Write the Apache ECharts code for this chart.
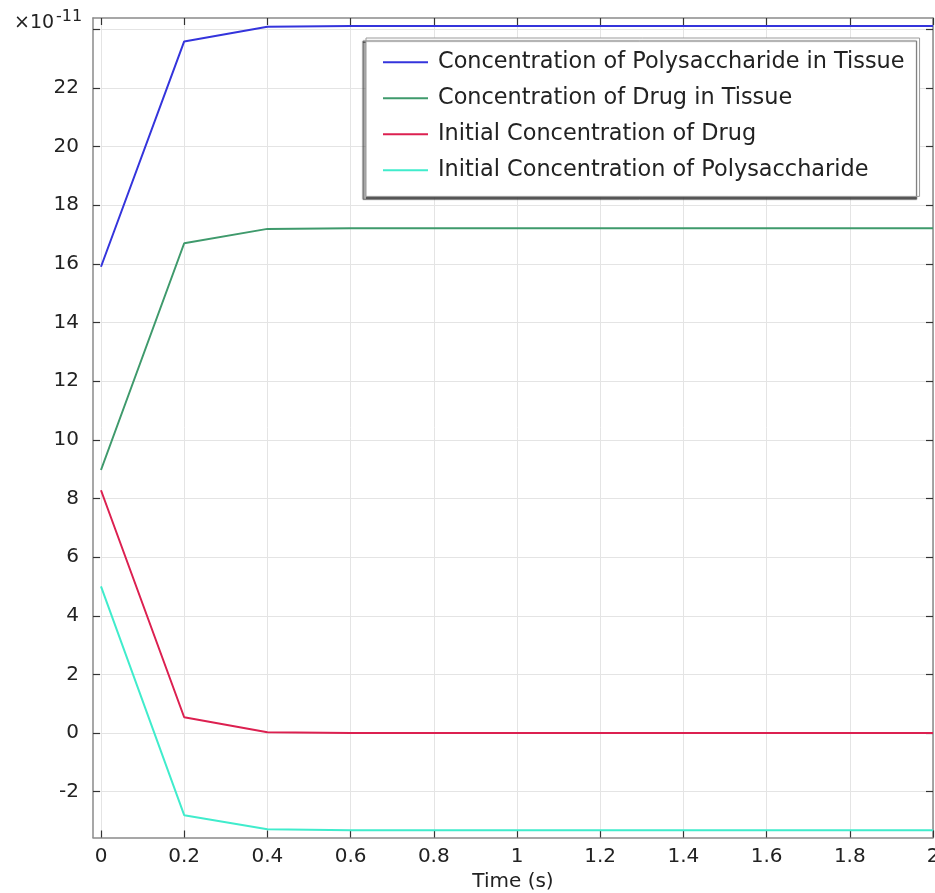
<!DOCTYPE html>
<html>
<head>
<meta charset="utf-8">
<script src="https://cdn.jsdelivr.net/npm/echarts@6/dist/echarts.min.js"></script>
<style>html,body{margin:0;padding:0;background:#fff;width:100%;height:100%;overflow:hidden;}#c{width:100%;height:100%;}</style>
</head>
<body>
<div id="c"></div>
<script>
// values in units of 1e-11
const times = [0, 0.2, 0.4, 0.6, 0.8, 1.0, 1.2, 1.4, 1.6, 1.8, 2.0];
const polyTissue = [15.9, 23.58, 24.08, 24.11, 24.11, 24.11, 24.11, 24.11, 24.11, 24.11, 24.11];
const drugTissue = [8.97, 16.70, 17.19, 17.21, 17.21, 17.21, 17.21, 17.21, 17.21, 17.21, 17.21];
const initDrug = [8.28, 0.54, 0.03, 0.0, 0.0, 0.0, 0.0, 0.0, 0.0, 0.0, 0.0];
const initPoly = [5.0, -2.80, -3.28, -3.31, -3.31, -3.31, -3.31, -3.31, -3.31, -3.31, -3.31];
const xTicks = [0, 0.2, 0.4, 0.6, 0.8, 1, 1.2, 1.4, 1.6, 1.8, 2];
const yTicks = [-2, 0, 2, 4, 6, 8, 10, 12, 14, 16, 18, 20, 22, 24];
const yLabels = [-2, 0, 2, 4, 6, 8, 10, 12, 14, 16, 18, 20, 22];
const seriesNames = ['Concentration of Polysaccharide in Tissue', 'Concentration of Drug in Tissue', 'Initial Concentration of Drug', 'Initial Concentration of Polysaccharide'];
const seriesColors = ['#3434dc', '#3f9a6c', '#dc2050', '#40eccc'];

const font = 'DejaVu Sans';
const pair = (arr) => times.map((t, i) => [t, arr[i]]);
const allData = [polyTissue, drugTissue, initDrug, initPoly];

const chart = echarts.init(document.getElementById('c'), null, {renderer: 'canvas'});
const xBase = {
  type: 'value', min: -0.0192, max: 2,
  axisLine: {show: true, onZero: false, lineStyle: {color: '#8a8a8a', width: 1.5}},
  axisTick: {show: true, inside: true, length: 7, customValues: xTicks, lineStyle: {color: '#333', width: 1.2}},
};
const yBase = {
  type: 'value', min: -3.56, max: 24.38,
  axisLine: {show: true, onZero: false, lineStyle: {color: '#8a8a8a', width: 1.5}},
  axisTick: {show: true, inside: true, length: 7, customValues: yTicks, lineStyle: {color: '#333', width: 1.2}},
};
chart.setOption({
  backgroundColor: '#fff',
  animation: false,
  title: {
    text: '×10{sup|-11}', left: 9, top: 4,
    textStyle: {fontFamily: font, fontSize: 19, fontWeight: 'normal', color: '#222',
      rich: {sup: {fontFamily: font, fontSize: 16, color: '#222', verticalAlign: 'top', padding: [0, 0, 12, 2]}}}
  },
  grid: {left: 93, right: 2, top: 18, bottom: 55.5, containLabel: false, outerBoundsMode: 'none'},
  legend: {
    orient: 'vertical', left: 366, top: 38,
    data: seriesNames, icon: 'rect', itemWidth: 45, itemHeight: 2, itemGap: 13.6,
    padding: [13, 15, 15, 17],
    backgroundColor: '#fff', borderColor: '#9a9a9a', borderWidth: 1, borderRadius: 0,
    shadowColor: 'rgba(60,60,60,0.85)', shadowBlur: 1, shadowOffsetX: -3, shadowOffsetY: 3,
    textStyle: {fontFamily: font, fontSize: 22.4, lineHeight: 22.4, color: '#222', padding: [0, 0, 0, 5]},
    selectedMode: false
  },
  xAxis: [
    Object.assign({}, xBase, {
      position: 'bottom',
      name: 'Time (s)', nameLocation: 'middle', nameGap: 33,
      nameTextStyle: {fontFamily: font, fontSize: 20, color: '#222'},
      axisLabel: {show: true, customValues: xTicks, margin: 9, fontFamily: font, fontSize: 20, color: '#222'},
      splitLine: {show: true, lineStyle: {color: '#e4e4e4', width: 1}}
    }),
    Object.assign({}, xBase, {position: 'top', axisLabel: {show: false}, splitLine: {show: false}})
  ],
  yAxis: [
    Object.assign({}, yBase, {
      position: 'left',
      axisLabel: {show: true, customValues: yLabels, margin: 14, fontFamily: font, fontSize: 20, color: '#222'},
      splitLine: {show: true, lineStyle: {color: '#e4e4e4', width: 1}}
    }),
    Object.assign({}, yBase, {position: 'right', axisLabel: {show: false}, splitLine: {show: false}})
  ],
  series: seriesNames.map((n, i) => ({
    name: n, type: 'line', data: pair(allData[i]),
    xAxisIndex: 0, yAxisIndex: 0,
    symbol: 'none', lineStyle: {color: seriesColors[i], width: 2}, itemStyle: {color: seriesColors[i]},
    z: 10 - i
  }))
});
window.addEventListener('resize', () => chart.resize());
</script>
</body>
</html>
